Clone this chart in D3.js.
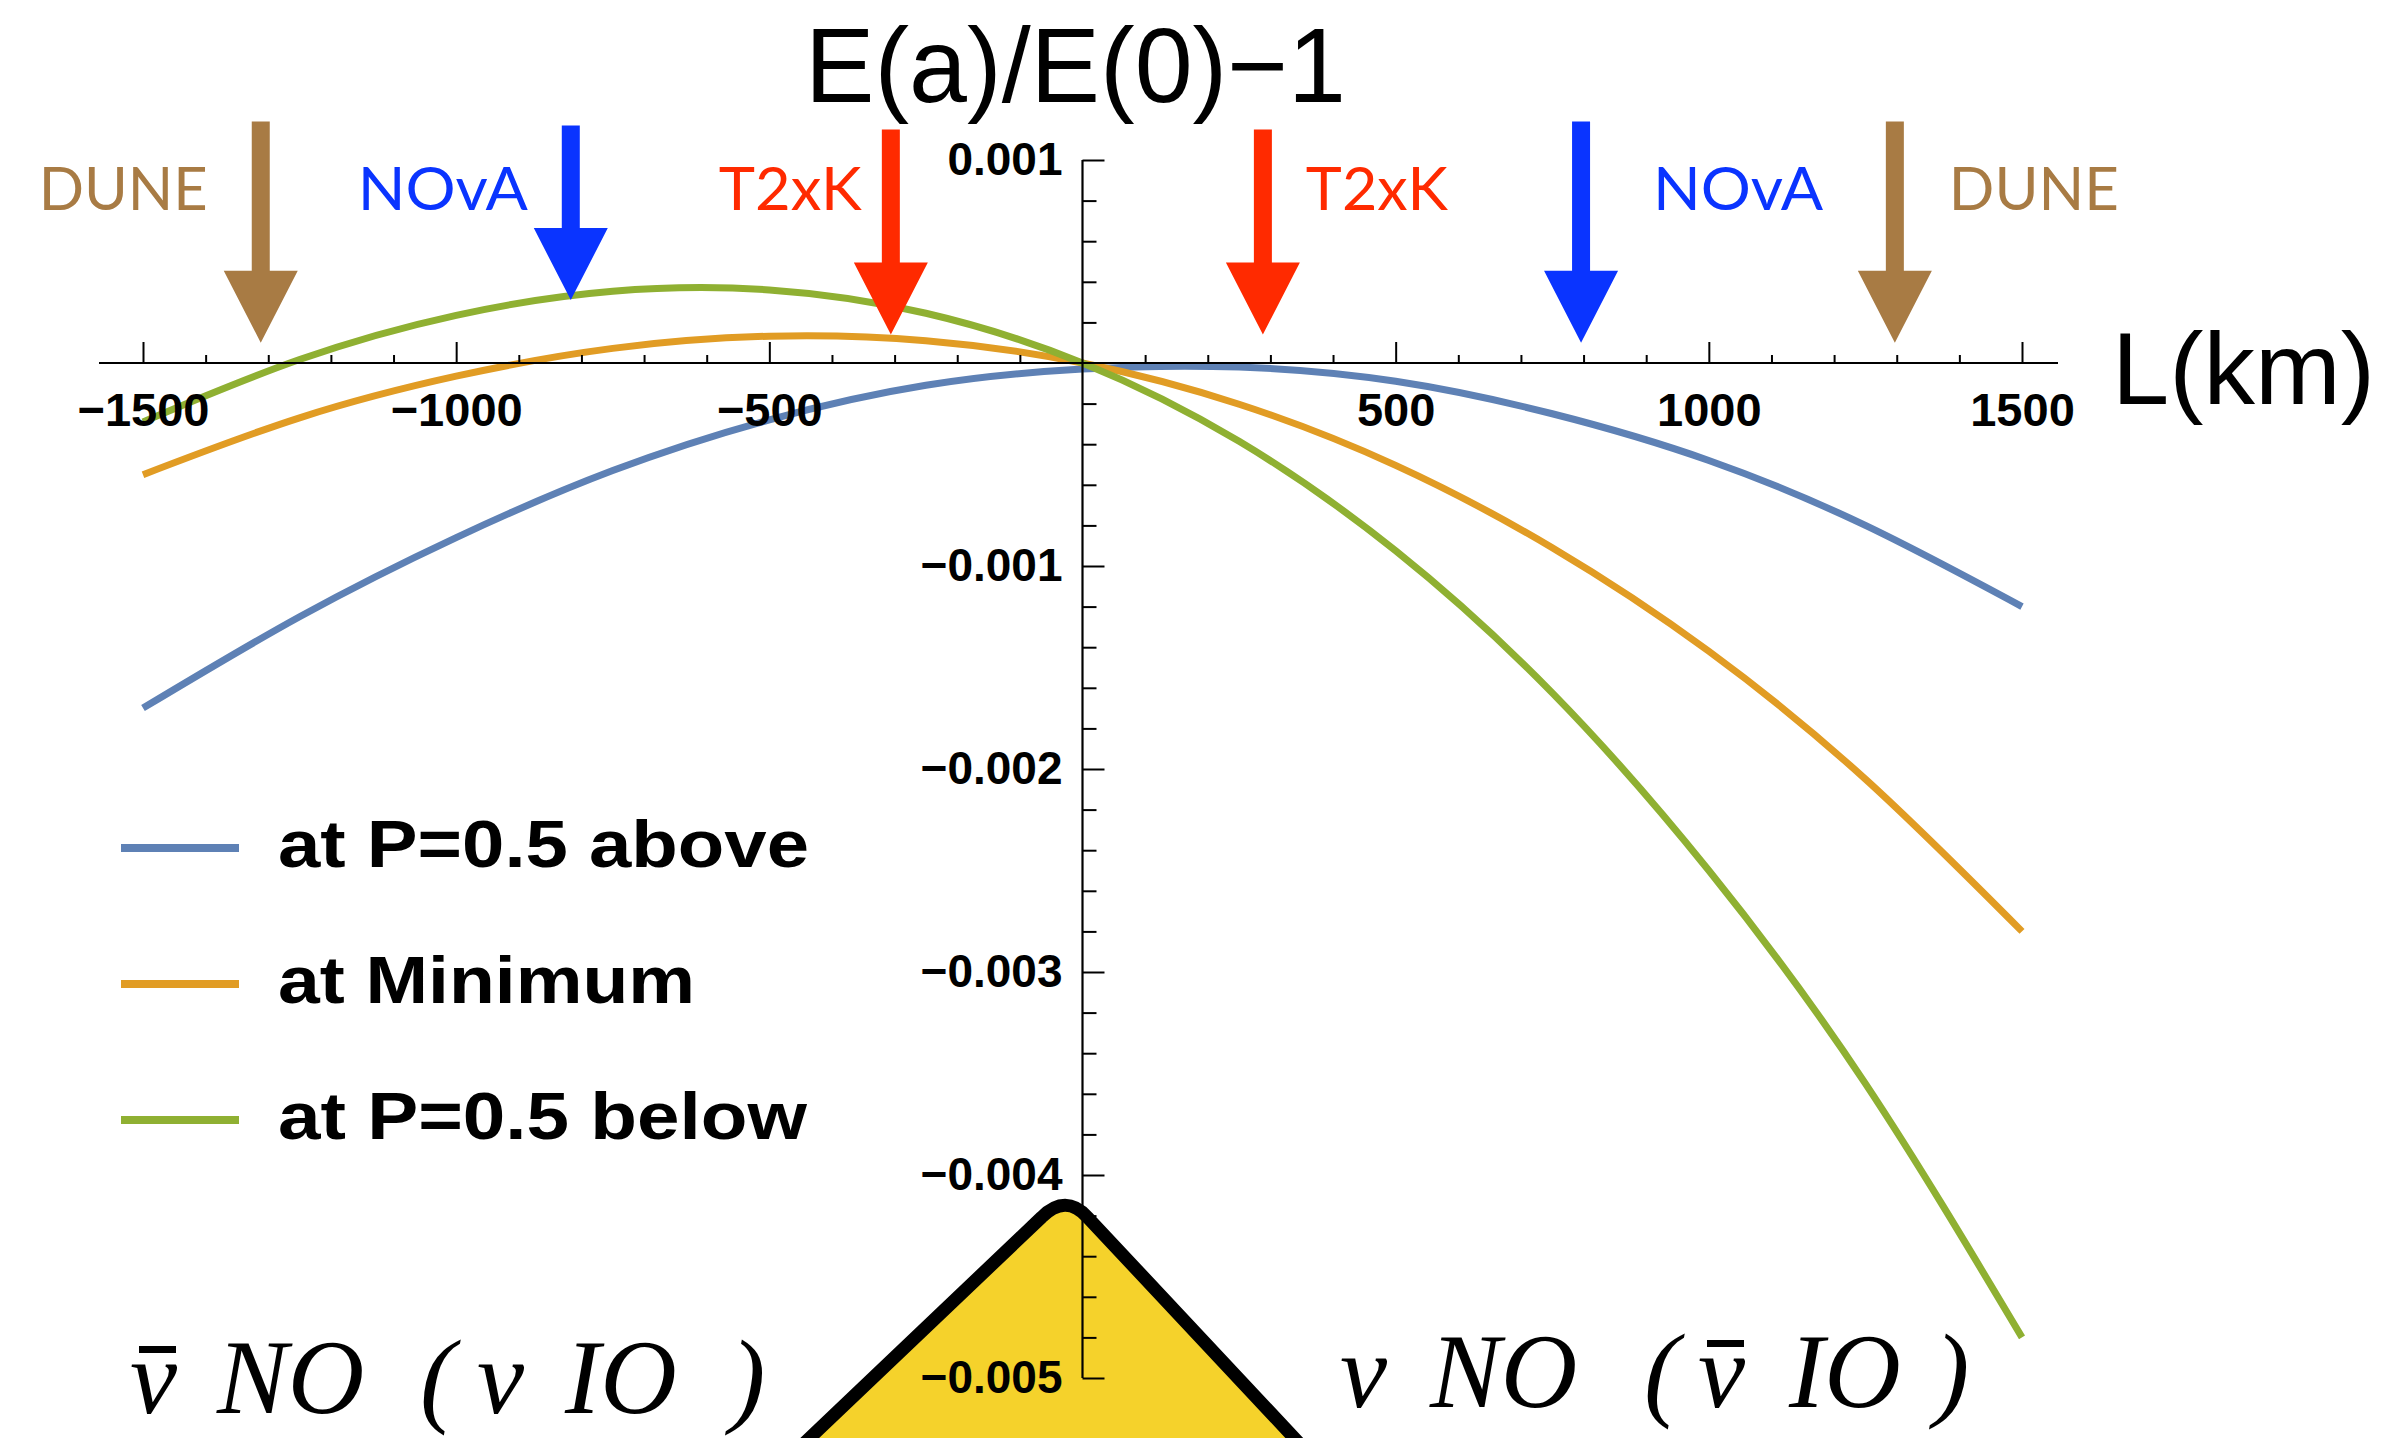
<!DOCTYPE html>
<html>
<head>
<meta charset="utf-8">
<script src="https://cdn.jsdelivr.net/npm/d3@7"></script>
<style>
  html, body { margin: 0; padding: 0; background: #fff; }
  svg { display: block; }
</style>
</head>
<body>
<svg id="chart" width="2383" height="1438"></svg>
<script>
// ---------------- DATA ----------------
const L_km = [-1500, -1250, -1000, -750, -500, -250, 0, 250, 500, 750, 1000, 1250, 1500];
const atP05Above = [-0.00170, -0.00125, -0.00086, -0.00053, -0.00028, -0.00011, -0.00003, -0.00002, -0.00009, -0.00025, -0.00048, -0.00080, -0.00120];
const atMinimum  = [-0.00055, -0.00027, -0.000065, 0.000072, 0.000132, 0.00011, 0, -0.000203, -0.000504, -0.00091, -0.00142, -0.00205, -0.0028];
const atP05Below = [-0.00029, 0.000017, 0.000235, 0.000353, 0.00036, 0.000245, 0, -0.000386, -0.000925, -0.001625, -0.0025, -0.00355, -0.0048];

const seriesNames = ["at P=0.5 above", "at Minimum", "at P=0.5 below"];
const xMajorTicks = [-1500, -1000, -500, 500, 1000, 1500];
const yMajorTicks = [0.001, -0.001, -0.002, -0.003, -0.004, -0.005];

const experimentNames = ["DUNE", "NOvA", "T2xK", "T2xK", "NOvA", "DUNE"];
const experimentL     = [-1312, -817, -306, 288, 796, 1297];
const arrowTipValue   = [0.0001, 0.00031, 0.00014, 0.00014, 0.0001, 0.0001];
const arrowTopValue   = [0.00119, 0.00117, 0.00115, 0.00115, 0.00119, 0.00119];

const titleText = "E(a)/E(0)\u22121";
const xTitleText = "L(km)";
const leftNoteTokens  = ["\u03BD", "NO", "(", "\u03BD", "IO", ")"];
const rightNoteTokens = ["\u03BD", "NO", "(", "\u03BD", "IO", ")"];
const leftNoteBar  = [true, false, false, false, false, false];   // antineutrino bar
const rightNoteBar = [false, false, false, true, false, false];

// ---------------- STYLE / LAYOUT ----------------
const seriesColors = ["#5E81B5", "#E19C24", "#8FB032"];
const expColor = { DUNE: "#A87B44", NOvA: "#0A34FF", T2xK: "#FF2A00" };
const labelOffset = [-53, -43, -29, 43, 72, 54];   // px from arrow to label edge
const labelWidth  = [169, 170, 143, 142, 170, 170];
const leftNoteX  = [130, 217, 420, 477, 565, 730];
const rightNoteX = [1340, 1430, 1644, 1698, 1789, 1934];

const svg = d3.select("#chart");
const x = d3.scaleLinear().domain([-1500, 1500]).range([143, 2022]);
const y = d3.scaleLinear().domain([0.001, -0.005]).range([160, 1378]);
const x0 = x(0), y0 = y(0);

// ---------------- warning sign (decoration) ----------------
{
  const ax = x(-27), ay = y(-0.00409);
  const pL = [ax - 24, ay + 24];
  const pR = [ax + 22, ay + 24];
  const bL = [ax - 300, 1480];
  const bR = [ax + 268, 1480];
  svg.append("path")
    .attr("d", `M${bL[0]},${bL[1]} L${pL[0]},${pL[1]} Q${ax},${ay} ${pR[0]},${pR[1]} L${bR[0]},${bR[1]} Z`)
    .attr("fill", "#F5D22B")
    .attr("stroke", "#000")
    .attr("stroke-width", 13)
    .attr("stroke-linejoin", "round");
}

// ---------------- curves ----------------
const allSeries = [atP05Above, atMinimum, atP05Below];
const line = d3.line().x((d, i) => x(L_km[i])).y(d => y(d)).curve(d3.curveNatural);
svg.append("g").selectAll("path").data(allSeries).join("path")
  .attr("d", d => line(d))
  .attr("fill", "none")
  .attr("stroke", (d, i) => seriesColors[i])
  .attr("stroke-width", 7);

// ---------------- axes ----------------
const axisG = svg.append("g");
axisG.append("line").attr("x1", 99).attr("x2", 2058).attr("y1", y0).attr("y2", y0)
  .attr("stroke", "#000").attr("stroke-width", 2.2);
axisG.append("line").attr("x1", x0).attr("x2", x0).attr("y1", y(0.001)).attr("y2", y(-0.005))
  .attr("stroke", "#000").attr("stroke-width", 2.2);

const xMinor = d3.range(-1500, 1501, 100).filter(v => v % 500 !== 0);
const xAxisMajor = d3.axisBottom(x).tickValues(xMajorTicks).tickSizeInner(-21).tickSizeOuter(0)
  .tickPadding(30).tickFormat(d3.format("d"));
const gx = axisG.append("g").attr("transform", `translate(0,${y0})`).call(xAxisMajor);
gx.select(".domain").remove();
gx.selectAll(".tick line").attr("stroke", "#000").attr("stroke-width", 2);
gx.selectAll(".tick text")
  .attr("font-family", "Liberation Sans, Arial, sans-serif")
  .attr("font-weight", "bold").attr("font-size", 47).attr("fill", "#000");
const gxMinor = axisG.append("g").attr("transform", `translate(0,${y0})`)
  .call(d3.axisBottom(x).tickValues(xMinor).tickSizeInner(-8).tickSizeOuter(0).tickFormat(""));
gxMinor.select(".domain").remove();
gxMinor.selectAll(".tick line").attr("stroke", "#000").attr("stroke-width", 2);

const yMinor = d3.range(-50, 11, 2).map(v => v / 10000).filter(v => Math.abs(Math.round(v * 10000)) % 10 !== 0);
const yAxisMajor = d3.axisLeft(y).tickValues(yMajorTicks).tickSizeInner(-22).tickSizeOuter(0)
  .tickPadding(20).tickFormat(d3.format(".3f"));
const gy = axisG.append("g").attr("transform", `translate(${x0},0)`).call(yAxisMajor);
gy.select(".domain").remove();
gy.selectAll(".tick line").attr("stroke", "#000").attr("stroke-width", 2);
gy.selectAll(".tick text")
  .attr("font-family", "Liberation Sans, Arial, sans-serif")
  .attr("font-weight", "bold").attr("font-size", 46).attr("fill", "#000");
const gyMinor = axisG.append("g").attr("transform", `translate(${x0},0)`)
  .call(d3.axisLeft(y).tickValues(yMinor).tickSizeInner(-14).tickSizeOuter(0).tickFormat(""));
gyMinor.select(".domain").remove();
gyMinor.selectAll(".tick line").attr("stroke", "#000").attr("stroke-width", 2);

// titles
svg.append("text").attr("x", 805).attr("y", 102)
  .attr("font-family", "Liberation Sans, Arial, sans-serif").attr("font-size", 106)
  .attr("textLength", 541).attr("lengthAdjust", "spacingAndGlyphs")
  .text(titleText);
svg.append("text").attr("x", 2112).attr("y", 404)
  .attr("font-family", "Liberation Sans, Arial, sans-serif").attr("font-size", 102)
  .attr("textLength", 263).attr("lengthAdjust", "spacingAndGlyphs")
  .text(xTitleText);

// ---------------- arrows ----------------
const arrowG = svg.append("g");
experimentNames.forEach((name, i) => {
  const ax = x(experimentL[i]);
  const tip = y(arrowTipValue[i]);
  const top = y(arrowTopValue[i]);
  const headLen = 72, headHalf = 37, shaftHalf = 9;
  const col = expColor[name];
  arrowG.append("path")
    .attr("d", `M${ax - shaftHalf},${top} L${ax + shaftHalf},${top} L${ax + shaftHalf},${tip - headLen}
                L${ax + headHalf},${tip - headLen} L${ax},${tip} L${ax - headHalf},${tip - headLen}
                L${ax - shaftHalf},${tip - headLen} Z`)
    .attr("fill", col);
  const left = experimentL[i] < 0;
  arrowG.append("text")
    .attr("x", ax + labelOffset[i])
    .attr("y", 210)
    .attr("text-anchor", left ? "end" : "start")
    .attr("font-family", "Lato, Open Sans, sans-serif")
    .attr("font-size", 60)
    .attr("fill", col)
    .attr("textLength", labelWidth[i]).attr("lengthAdjust", "spacingAndGlyphs")
    .text(name);
});

// ---------------- legend ----------------
const legendY = [848, 984, 1120];
const legendW = [531, 417, 529];
const legG = svg.append("g");
seriesNames.forEach((n, i) => {
  legG.append("line").attr("x1", 121).attr("x2", 239).attr("y1", legendY[i]).attr("y2", legendY[i])
    .attr("stroke", seriesColors[i]).attr("stroke-width", 8);
  legG.append("text").attr("x", 278).attr("y", legendY[i] + 19)
    .attr("font-family", "Liberation Sans, Arial, sans-serif").attr("font-weight", "bold")
    .attr("font-size", 66)
    .attr("textLength", legendW[i]).attr("lengthAdjust", "spacingAndGlyphs")
    .text(n);
});

// ---------------- bottom notes ----------------
function note(tokens, xs, bars, baseline) {
  const g = svg.append("g");
  const t = g.append("text").attr("y", baseline)
    .attr("font-family", "Liberation Serif, Times New Roman, serif").attr("font-style", "italic")
    .attr("font-size", 106);
  tokens.forEach((tok, i) => {
    t.append("tspan").attr("x", xs[i]).text(tok);
    if (bars[i]) {
      g.append("rect").attr("x", xs[i] + 9).attr("y", baseline - 67)
        .attr("width", 37).attr("height", 7).attr("fill", "#000");
    }
  });
}
note(leftNoteTokens, leftNoteX, leftNoteBar, 1413);
note(rightNoteTokens, rightNoteX, rightNoteBar, 1407);
</script>
</body>
</html>
